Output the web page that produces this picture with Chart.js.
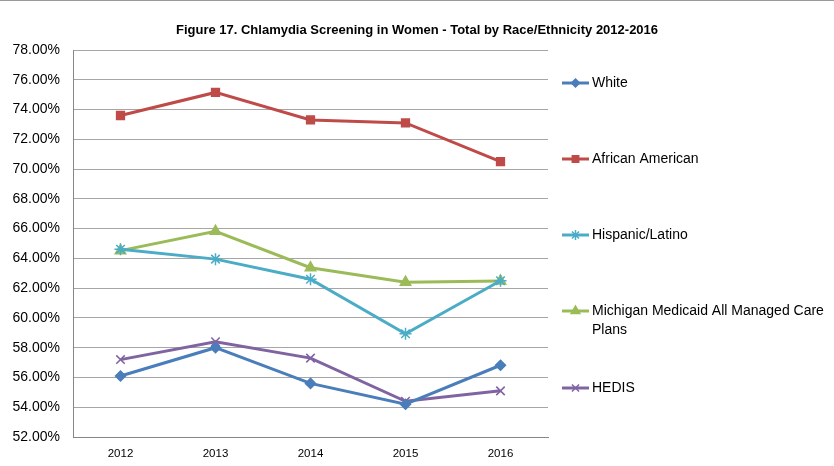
<!DOCTYPE html>
<html>
<head>
<meta charset="utf-8">
<script src="https://cdn.jsdelivr.net/npm/chart.js@4.4.0/dist/chart.umd.min.js"></script>
<style>
  html, body { margin: 0; padding: 0; background: #fff; }
  #wrap { position: relative; width: 834px; height: 466px; box-sizing: border-box; border-top: 1px solid #9a9a9a; }
  canvas { display: block; }
</style>
</head>
<body>
<div id="wrap"><canvas id="c" width="834" height="465"></canvas></div>
<script>
const years = ["2012", "2013", "2014", "2015", "2016"];
const white = [56.1, 58.0, 55.6, 54.2, 56.82];
const africanAmerican = [73.6, 75.15, 73.3, 73.1, 70.5];
const hispanic = [64.62, 63.95, 62.6, 58.93, 62.5];
const medicaid = [64.52, 65.82, 63.37, 62.4, 62.48];
const hedis = [57.2, 58.4, 57.3, 54.4, 55.1];
const yTicks = { min: 52, max: 78, step: 2 };

const FONT = "'Liberation Sans', Arial, sans-serif";

const series = [
  { label: "White", data: white, color: "#4a7ebb", style: "rectRot", r: 5 },
  { label: "African American", data: africanAmerican, color: "#be4b48", style: "rect", r: 5.5 },
  { label: "Hispanic/Latino", data: hispanic, color: "#4bacc6", style: "star", r: 6 },
  { label: "Michigan Medicaid All Managed Care\nPlans", data: medicaid, color: "#9bbb59", style: "triangle", r: 6 },
  { label: "HEDIS", data: hedis, color: "#8064a2", style: "crossRot", r: 6 },
];

// title + spaced legend drawn by hand, like the Excel original
const decor = {
  id: "decor",
  afterDraw(chart) {
    const ctx = chart.ctx;
    ctx.save();
    ctx.fillStyle = "#000";
    ctx.font = "bold 13px " + FONT;
    ctx.textAlign = "center";
    ctx.textBaseline = "middle";
    ctx.fillText("Figure 17. Chlamydia Screening in Women - Total by Race/Ethnicity 2012-2016", 417, 29);

    const ys = [82, 158, 234, 310, 387];
    ctx.font = "14px " + FONT;
    ctx.textAlign = "left";
    chart.data.datasets.forEach((ds, i) => {
      const y = ys[i];
      ctx.strokeStyle = ds.borderColor;
      ctx.lineWidth = 3;
      ctx.beginPath();
      ctx.moveTo(562, y);
      ctx.lineTo(589, y);
      ctx.stroke();
      ctx.fillStyle = ds.borderColor;
      ctx.lineWidth = 1.5;
      Chart.helpers.drawPoint(ctx, { pointStyle: ds.pointStyle, radius: ds.pointRadius - 1, borderWidth: 1.5, rotation: 0 }, 575.5, y);
      ctx.fillStyle = "#000";
      ds.label.split("\n").forEach((line, k) => ctx.fillText(line, 592, y + k * 19));
    });
    ctx.restore();
  },
};

new Chart(document.getElementById("c"), {
  type: "line",
  data: {
    labels: years,
    datasets: series.map((s) => ({
      label: s.label,
      data: s.data,
      borderColor: s.color,
      backgroundColor: s.color,
      pointBackgroundColor: s.color,
      pointBorderColor: s.color,
      pointStyle: s.style,
      pointRadius: s.r,
      pointBorderWidth: 1.5,
      borderWidth: 3,
      tension: 0,
    })),
  },
  options: {
    responsive: false,
    animation: false,
    layout: { padding: { top: 49, right: 286, left: 0, bottom: 0 } },
    plugins: { legend: { display: false }, title: { display: false }, tooltip: { enabled: false } },
    scales: {
      x: {
        offset: true,
        grid: { display: false, drawTicks: false },
        border: { color: "#868686", width: 1 },
        ticks: { color: "#000", font: { family: FONT, size: 11.5 }, padding: 10 },
        afterFit: (s) => { s.height = 29; },
      },
      y: {
        min: yTicks.min,
        max: yTicks.max,
        grid: { color: "#a6a6a6", drawTicks: false },
        border: { color: "#868686", width: 1 },
        ticks: {
          stepSize: yTicks.step,
          color: "#000",
          font: { family: FONT, size: 14 },
          padding: 13,
          callback: (v) => v.toFixed(2) + "%",
        },
        afterFit: (s) => { s.width = 73; },
      },
    },
  },
  plugins: [decor],
});
</script>
</body>
</html>
